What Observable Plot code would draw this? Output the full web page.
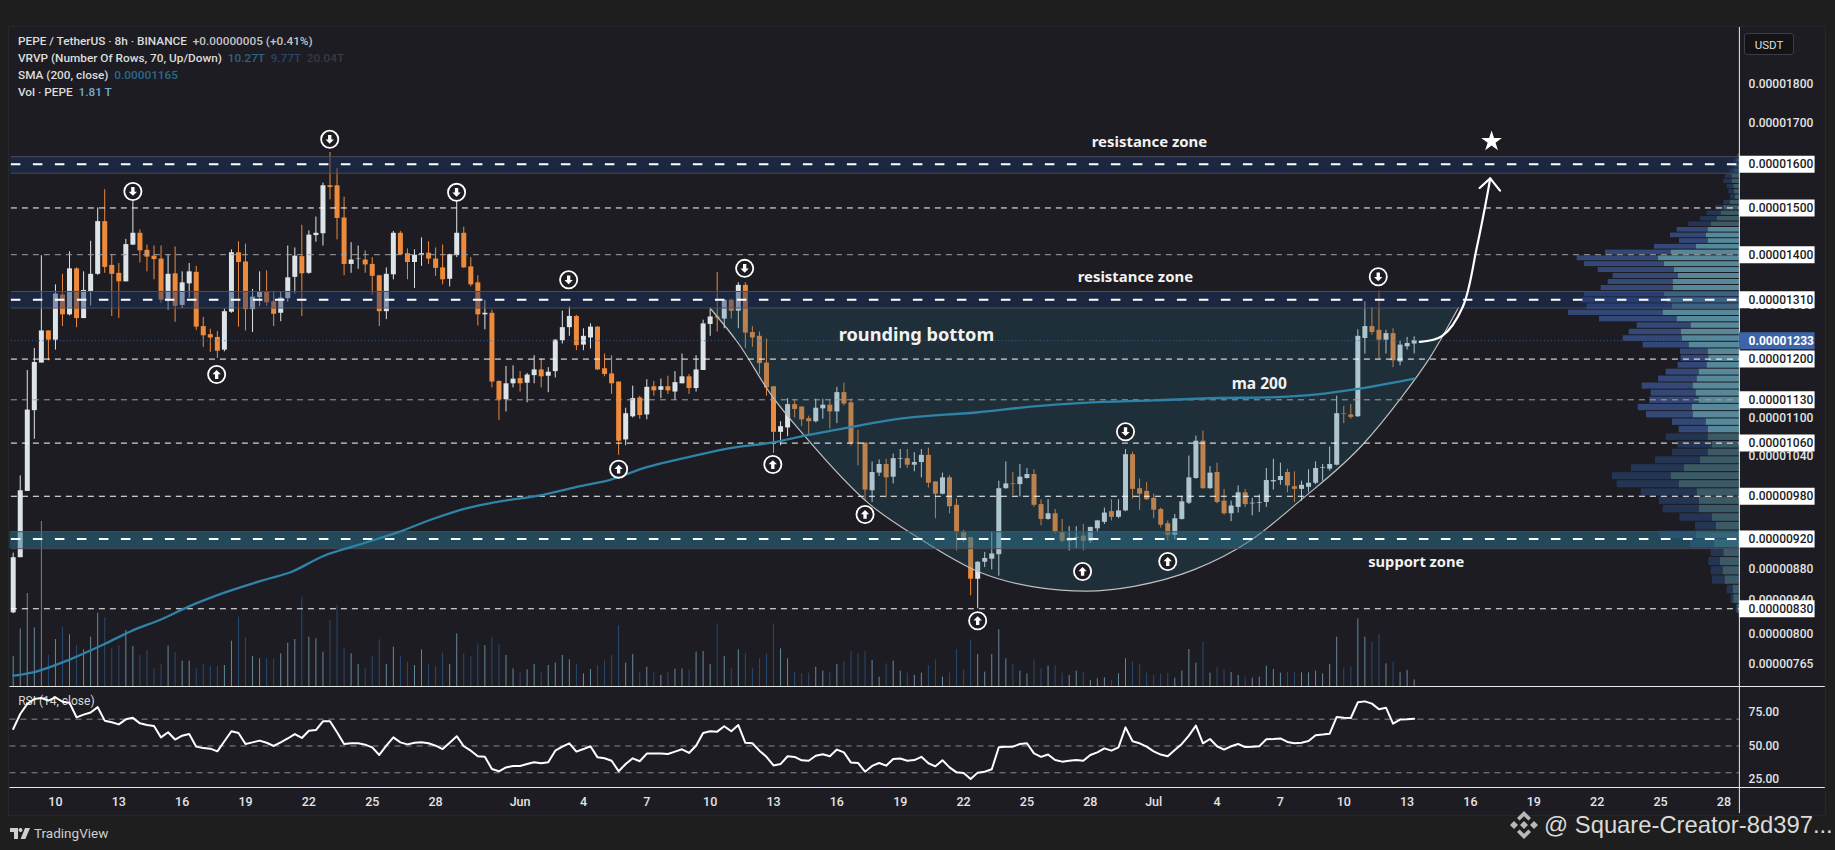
<!DOCTYPE html>
<html>
<head>
<meta charset="utf-8">
<title>PEPE / TetherUS 8h</title>
<script src="https://cdn.jsdelivr.net/npm/d3@7"></script>
<script src="https://cdn.jsdelivr.net/npm/@observablehq/plot@0.6"></script>
<style>
  html,body{margin:0;padding:0;background:#1e1e1e;width:1835px;height:850px;overflow:hidden;font-family:Roboto,sans-serif;}
  #stage{position:relative;width:1835px;height:850px;}
  #pane{position:absolute;left:9px;top:27px;width:1816px;height:788px;background:#1c1c22;box-shadow:0 0 0 1px #27272b;}
  .layer{position:absolute;left:0;}
  .layer svg{display:block;}
  #legend{position:absolute;left:18px;top:33px;font-size:11.8px;line-height:17px;color:#dcdcdc;white-space:pre;font-weight:500;}
  #usdt{position:absolute;left:1744px;top:33px;width:50px;height:22px;line-height:22px;text-align:center;font-size:11.5px;color:#dcdcdc;background:#131316;border:1px solid #3c3c42;border-radius:3px;box-sizing:border-box;}
  #tv{position:absolute;left:10px;top:825px;color:#cfcfcf;font-size:13.5px;line-height:16px;display:flex;align-items:center;gap:4px;}
  #mark{position:absolute;left:1510px;top:808px;color:#dadada;font-family:"Liberation Sans",Arial,sans-serif;font-size:23.8px;line-height:34px;display:flex;align-items:center;gap:6px;white-space:pre;}
</style>
</head>
<body>
<div id="stage">
  <div id="pane"></div>
  <div id="layers"></div>
  <div id="legend"><div>PEPE / TetherUS · 8h · BINANCE  <span style="color:#c4c4c4">+0.00000005 (+0.41%)</span></div><div>VRVP (Number Of Rows, 70, Up/Down)  <span style="color:#2f6583">10.27T</span>  <span style="color:#2a4568">9.77T</span>  <span style="color:#3a3a42">20.04T</span></div><div>SMA (200, close)  <span style="color:#2b6a8c">0.00001165</span></div><div>Vol · PEPE  <span style="color:#76aecb">1.81 T</span></div></div>
  <div id="usdt">USDT</div>
  <div id="tv"><svg width="20" height="11" viewBox="0 0 20 11"><path fill="#cfcfcf" d="M0 0h8v11H4V4H0z"/><circle fill="#cfcfcf" cx="10.5" cy="2" r="2"/><path fill="#cfcfcf" d="M15 0h5l-4.6 11H10.6z"/></svg><span>TradingView</span></div>
  <div id="mark"><svg width="28" height="30" viewBox="0 0 28 30"><g fill="#b9b9b9"><path d="M14 11l4 4-4 4-4-4z"/><path d="M14 1l7 7-2.6 2.6L14 6.200l-4.400 4.400L7 8z"/><path d="M14 29l-7-7 2.600-2.600 4.400 4.400 4.400-4.400L21 22z"/><path d="M4 11l4 4-4 4-4-4z"/><path d="M24 11l4 4-4 4-4-4z"/></g></svg><span>@ Square-Creator-8d397...</span></div>
</div>
<script>
// Prices are in units of 0.00000001 USDT. One candle every 8 hours from 8 May 2024.
const opens=[825,895,987,1112,1193,1251,1234,1319,1281,1371,1274,1326,1360,1470,1378,1362,1345,1420,1445,1409,1397,1391,1307,1361,1299,1341,1364,1259,1244,1239,1216,1286,1404,1385,1291,1314,1326,1306,1284,1312,1354,1396,1362,1440,1444,1550,1550,1478,1380,1390,1389,1380,1357,1287,1359,1445,1402,1384,1399,1403,1391,1373,1350,1398,1445,1375,1343,1281,1284,1161,1130,1157,1166,1158,1171,1181,1170,1178,1233,1257,1278,1225,1238,1258,1183,1174,1160,1065,1102,1133,1105,1152,1146,1152,1143,1157,1169,1149,1180,1263,1277,1273,1309,1288,1338,1248,1241,1193,1152,1077,1084,1122,1118,1099,1094,1115,1121,1110,1142,1125,1060,1060,988,1014,1027,1008,1035,1036,1026,1030,1041,1001,983,1007,967,930,922,867,889,893,899,991,998,997,1006,1012,968,947,955,929,917,921,924,917,934,943,958,950,959,1042,991,987,977,961,941,925,947,970,1006,1063,991,1015,973,955,964,985,969,970,971,1001,1003,1015,994,990,993,999,1021,1020,1026,1107,1105,1102,1237,1259,1252,1234,1246,1195,1222,1227];
const highs=[901,1010,1180,1219,1398,1251,1339,1360,1406,1373,1365,1428,1500,1541,1400,1382,1432,1514,1452,1420,1418,1418,1400,1416,1365,1382,1376,1276,1254,1250,1292,1410,1427,1422,1330,1365,1367,1326,1325,1418,1414,1462,1450,1480,1556,1628,1590,1524,1425,1418,1408,1394,1358,1373,1449,1449,1412,1410,1435,1427,1414,1420,1401,1514,1458,1394,1357,1309,1290,1162,1187,1188,1178,1175,1206,1200,1185,1235,1288,1296,1280,1255,1264,1259,1209,1206,1160,1116,1153,1136,1164,1161,1165,1170,1178,1209,1173,1206,1271,1291,1364,1309,1311,1343,1343,1259,1249,1236,1152,1094,1132,1130,1118,1103,1131,1131,1129,1151,1158,1131,1080,1060,1031,1034,1035,1043,1050,1050,1045,1050,1052,1001,1014,1010,976,932,922,890,902,930,1002,1031,1015,1027,1021,1019,975,975,961,947,937,937,940,936,945,963,975,975,1050,1046,1005,1000,983,963,945,954,980,1040,1071,1079,1024,1029,990,973,995,990,977,982,1021,1035,1029,1020,1016,1002,1019,1031,1027,1054,1136,1119,1122,1253,1306,1295,1327,1252,1255,1232,1239,1240];
const lows=[824,895,987,1066,1193,1197,1216,1259,1279,1257,1274,1298,1358,1362,1278,1274,1345,1419,1383,1365,1349,1303,1290,1267,1293,1313,1252,1221,1212,1201,1213,1284,1258,1251,1248,1297,1297,1259,1268,1305,1321,1278,1360,1426,1418,1518,1431,1357,1362,1370,1362,1319,1259,1272,1349,1399,1349,1332,1376,1380,1356,1339,1335,1394,1372,1335,1260,1253,1150,1096,1110,1150,1143,1125,1157,1150,1142,1167,1227,1241,1215,1215,1218,1180,1169,1139,1041,1056,1100,1098,1097,1136,1132,1139,1129,1157,1139,1143,1180,1241,1249,1255,1273,1255,1219,1221,1173,1136,1044,1056,1070,1100,1086,1073,1092,1098,1082,1091,1120,1055,1025,973,971,1009,978,998,1021,1021,1016,1007,992,948,982,955,904,915,846,830,882,879,871,990,981,979,1005,964,938,946,927,915,904,907,904,914,929,940,945,948,958,976,960,974,948,935,917,919,946,968,1005,990,990,969,953,944,956,964,952,957,964,989,996,985,971,973,985,997,1002,1017,1025,1091,1098,1101,1209,1243,1200,1209,1185,1188,1216,1209];
const closes=[895,988,1113,1194,1251,1234,1321,1281,1371,1274,1328,1360,1470,1374,1360,1345,1421,1445,1408,1395,1390,1309,1360,1297,1343,1365,1258,1242,1238,1214,1287,1404,1384,1291,1315,1324,1304,1282,1313,1353,1397,1361,1441,1445,1550,1546,1477,1380,1389,1391,1379,1356,1287,1360,1445,1400,1384,1399,1402,1391,1372,1349,1400,1445,1373,1339,1281,1284,1160,1130,1157,1165,1157,1172,1181,1169,1177,1234,1257,1278,1224,1241,1258,1181,1173,1157,1063,1107,1132,1104,1151,1145,1152,1145,1159,1169,1149,1181,1264,1277,1275,1309,1288,1338,1247,1238,1192,1150,1077,1086,1122,1114,1097,1094,1116,1121,1110,1142,1123,1059,1059,989,1015,1027,1007,1036,1036,1026,1030,1041,999,983,1007,965,929,921,867,889,894,900,991,998,997,1008,1012,967,947,955,929,917,921,922,917,936,945,956,950,959,1042,990,983,975,960,939,925,948,972,1007,1063,991,1014,971,955,966,985,968,970,971,1003,1003,1009,995,990,996,999,1021,1022,1027,1107,1106,1101,1241,1259,1248,1234,1246,1197,1225,1228,1233];
// Volume: one unit is about 0.09T
const volumes=[90,173,279,176,495,93,141,178,155,123,110,148,220,206,113,123,168,120,93,108,53,66,121,101,76,76,53,66,60,60,63,136,208,146,90,83,83,83,98,130,141,268,148,143,103,198,243,113,98,66,53,90,140,66,118,90,73,63,110,66,60,100,66,158,98,90,128,123,148,126,93,53,40,50,66,41,63,70,93,80,66,38,51,63,76,93,183,70,96,43,58,41,33,43,52,53,50,103,105,66,188,90,53,110,100,53,83,96,188,113,83,43,38,40,58,46,43,66,75,105,98,105,78,28,68,76,46,40,33,40,63,80,28,40,110,50,140,96,43,96,170,83,66,46,38,80,53,61,61,40,33,46,43,18,23,26,18,38,83,73,66,40,33,38,40,25,46,111,70,133,40,56,50,42,33,28,25,28,61,51,40,43,41,41,41,46,38,66,148,55,58,203,148,133,156,68,73,41,48,20];
const rsiValues=[62.7,73.9,81.4,85.1,85.8,83.9,86.3,83,82.2,71.4,73.4,75,79,68.9,67.7,66.1,69.9,71,66.9,65.7,64.9,56.4,60.2,54.8,57.7,58.9,49.5,48.4,48,46,53.5,61,59.7,51.5,52.7,54,52.4,50,52.7,55.6,58.9,56,61.4,61.9,68.4,68.4,60.2,51.5,52,52,51,49,43.3,50.2,56.4,52.7,51.2,52.4,52.7,52,50.2,47.7,52.4,57.3,49.8,46.5,42.3,41.9,32.8,31.1,34,35.1,35.1,36.5,37.8,37.1,37.8,46.5,49.5,52,45.8,47.7,49.8,41.5,40.8,39,31.1,36.5,40.8,38.6,44.3,44.3,44.3,44,45.8,47.5,44.8,50.2,59.7,61,60.7,64.7,61,65.6,52.4,52,46.5,41.9,35.5,36.5,42.3,41.8,39.3,39,42.7,43.8,42.3,47.3,45.2,37.6,37.3,30.8,35.1,37.3,35.3,40.3,40.6,39,39.5,41.9,37.1,34.8,39.3,34,30.3,29.9,25.3,30.1,30.8,32.6,49,49.5,49.5,51.5,52,44.5,41.9,43.6,39.5,38.3,39,39.5,39,43.3,45.2,48.2,46.5,49,63.9,53.5,52,49.5,46,43.6,42.3,47,51.5,57.7,65.2,52,55.2,49.8,47.3,49.8,51.5,49.2,49.5,49.8,55,55.2,55.6,53,52,52.4,53.7,58,58.5,59.2,71.7,71.1,70.9,82.6,83.3,81.6,77.4,78.6,66.7,69.7,69.9,70.4];
// SMA 200, read at selected candle positions
const smaBars=[0,3,8,13,17,21,25,30,36,39.4,44,49,54.6,59.7,64.5,68.8,75.3,80.2,84.8,90,95.8,102.3,107.9,112.6,118.8,126,136.8,145,152,162,171.5,178,185.2,190.3,199];
const smaValues=[752,756,770,788,804,817,833,850,867,876,897,912,929,948,963,972,982,994,1004,1023,1038,1053,1061,1072,1085,1099,1109,1119,1125,1129,1133,1134,1139,1147,1166];
// Rounding-bottom drawing
const bowlBars=[98.97,103.07,107.57,112.6,121.6,128.87,137.3,145.2,152.46,159.2,167.66,175.75,182.85,191.8,197.06,201.3,205.3];
const bowlPrices=[1294,1227,1140,1069,969,920,876,857,852,858,879,918,974,1059,1132,1204,1295];
const bowlTop=1295;
// Projection arrow
const arrowBars=[199.8,203,205.9,207.9,209.5,209.8];
const arrowPrices=[1231,1242,1296,1415,1539,1567];
const headBars=[208.3,209.8,211.2];
const headPrices=[1545,1567,1539];
// Circled markers
const downMarkBars=[44.96,17,62.98,78.9,103.9,158,193.9];
const downMarkPrices=[1660,1537,1535,1349,1372,1078,1355];
const upMarkBars=[28.9,86,107.9,121,137,151.9,164];
const upMarkPrices=[1173,1020,1027,954,815.5,877,890];
// Zones and levels
const zoneHigh=[1618,1326,930];
const zoneLow=[1579,1294,907];
const zoneColor=["#1a3468","#1a3468","#2a7390"];
const zoneOpacity=[0.45,0.45,0.5];
const zoneLevels=[1600,1310,920];
const whiteLevels=[1500,1200,1060,980,830];
const greyLevels=[1400,1130];
const lastPrice=1233;
const boxedLabels=[1600,1500,1400,1310,1200,1130,1060,980,920,830];
const plainLabels=[1800,1700,1300,1100,1040,880,840,800,765];
// Annotations
const noteTexts=["resistance zone","resistance zone","support zone","rounding bottom","ma 200"];
const noteBars=[161.4,159.4,199.3,128.3,177];
const notePrices=[1653,1355,889,1243,1156];
const noteSizes=[14.9,14.9,14.7,18.2,15.5];
// Volume profile rows, bottom to top; lengths in relative units
const profileBottom=824;
const profileStep=11.97;
const profileUp=[7,17,19,43,49,57,47,75,129,70,81,121,120,127,180,205,165,117,94,82,94,94,100,139,142,121,130,139,127,121,97,92,94,151,172,175,145,187,229,201,217,225,199,199,184,195,225,243,205,129,94,99,94,85,67,55,47,27,12,15,17,22,22,17,12,9,3];
const profileDown=[3,8,18,38,36,35,38,72,110,62,98,108,121,168,187,176,159,135,107,103,126,87,101,140,162,148,135,153,116,99,87,83,83,138,177,156,162,233,284,256,255,240,216,195,195,229,240,244,197,126,86,108,93,67,50,42,25,20,15,17,20,25,20,12,10,8,4];
const valueAreaLow=1075, valueAreaHigh=1458;
// Time axis
const tickDays=["2024-05-10","2024-05-13","2024-05-16","2024-05-19","2024-05-22","2024-05-25","2024-05-28","2024-06-01","2024-06-04","2024-06-07","2024-06-10","2024-06-13","2024-06-16","2024-06-19","2024-06-22","2024-06-25","2024-06-28","2024-07-01","2024-07-04","2024-07-07","2024-07-10","2024-07-13","2024-07-16","2024-07-19","2024-07-22","2024-07-25","2024-07-28"];
const tickLabels=["10","13","16","19","22","25","28","Jun","4","7","10","13","16","19","22","25","28","Jul","4","7","10","13","16","19","22","25","28"];
const rsiBands=[70,50,30];
const rsiLabels=[75,50,25];

const barTime=i=>new Date(Date.UTC(2024,4,8)+i*8*3600e3);
const FONT="Roboto, sans-serif";
const xOpt={type:"utc",domain:[barTime(-1.804),barTime(258.85)],range:[0,1835],axis:null};
const UP="#dde4e8",DOWN="#ee8a3c",GRID="#a0a0a0",WHITE="#ffffff";
const axisBar=245.2, paneLeftBar=-0.455, paneRightBar=257.4, boxEndBar=255.95, labelBar=246.5;
const zip=(xs,ys)=>xs.map((b,i)=>({t:barTime(b),p:ys[i]}));

const candles=opens.map((o,i)=>({t:barTime(i),open:o,high:highs[i],low:lows[i],close:closes[i],up:closes[i]>=o,vol:volumes[i],rsi:rsiValues[i]}));
const bowl=zip(bowlBars,bowlPrices);
const zones=zoneHigh.map((h,i)=>({hi:h,lo:zoneLow[i],fill:zoneColor[i],op:zoneOpacity[i]}));
const notes=noteTexts.map((s,i)=>({s,t:barTime(noteBars[i]),p:notePrices[i],size:noteSizes[i]}));
const priceText=p=>(p/1e8).toFixed(8);

function arrowSymbol(dir){return {draw(ctx,size){
  const r=Math.sqrt(size/Math.PI), s=dir;
  ctx.moveTo(0,-s*r); ctx.lineTo(r*0.95,-s*r*0.05); ctx.lineTo(r*0.38,-s*r*0.05);
  ctx.lineTo(r*0.38,s*r); ctx.lineTo(-r*0.38,s*r); ctx.lineTo(-r*0.38,-s*r*0.05);
  ctx.lineTo(-r*0.95,-s*r*0.05); ctx.closePath();
}};}

function hline(levels,stroke,width,dash){
  return Plot.ruleY(levels,{y:d=>d,x1:()=>barTime(paneLeftBar+0.2),x2:()=>barTime(axisBar),stroke,strokeWidth:width,strokeDasharray:dash});
}
function addLayer(top,node){const d=document.createElement("div");d.className="layer";d.style.top=top+"px";d.appendChild(node);document.getElementById("layers").appendChild(d);}

// Volume layer
addLayer(500,Plot.plot({width:1835,height:186,margin:0,style:{background:"transparent"},
  x:xOpt,y:{domain:[0,558],range:[186,0],axis:null},
  marks:[Plot.ruleX(candles,{x:"t",y1:()=>0,y2:"vol",stroke:d=>d.up?"#6d96ad":"#2a5078",strokeWidth:0.9})]}));

// Volume profile layer
const rows=profileUp.map((u,k)=>{const c=profileBottom+(k+0.5)*profileStep;const va=c>=valueAreaLow&&c<=valueAreaHigh;
  return {y1:profileBottom+k*profileStep,y2:profileBottom+(k+1)*profileStep,up:u,down:profileDown[k],va};});
addLayer(0,Plot.plot({width:1835,height:850,margin:0,style:{background:"transparent"},
  x:{domain:[0,537],range:[1739,1560],axis:null},
  y:{type:"log",domain:[1958,740],range:[27,686],axis:null},
  marks:[
    Plot.rect(rows,{x1:d=>d.up,x2:d=>d.up+d.down,y1:"y1",y2:"y2",fill:d=>d.va?"#344878":"#233552",insetTop:0.5,insetBottom:0.5}),
    Plot.rect(rows,{x1:()=>0,x2:"up",y1:"y1",y2:"y2",fill:d=>d.va?"#568899":"#3b5a66",insetTop:0.5,insetBottom:0.5})
  ]}));

// Price layer
addLayer(0,Plot.plot({width:1835,height:850,margin:0,style:{background:"transparent",fontFamily:FONT},
  x:xOpt,y:{type:"log",domain:[1958,740],range:[27,686],axis:null},
  marks:[
    Plot.ruleX(candles,{x:"t",y1:"low",y2:"high",stroke:d=>d.up?UP:DOWN,strokeWidth:1}),
    Plot.ruleX(candles,{x:"t",y1:"open",y2:"close",stroke:d=>d.up?UP:DOWN,strokeWidth:5}),
    Plot.areaY(bowl,{x:"t",y1:"p",y2:()=>bowlTop,curve:"monotone-x",fill:"#28687e",fillOpacity:0.25}),
    Plot.line(bowl,{x:"t",y:"p",curve:"monotone-x",stroke:"#c0c0c0",strokeWidth:1.2}),
    Plot.rect(zones,{x1:()=>barTime(paneLeftBar),x2:()=>barTime(axisBar),y1:"lo",y2:"hi",fill:"fill",fillOpacity:"op"}),
    hline(zoneHigh,"#4c4c56",1),hline(zoneLow,"#4c4c56",1),
    hline(zoneLevels,WHITE,2,"9.5,12.5"),
    hline(whiteLevels,WHITE,1,"6,5"),
    hline(greyLevels,GRID,1,"6,5"),
    hline([lastPrice],"#35639c",1,"1,2.5"),
    Plot.line(zip(smaBars,smaValues),{x:"t",y:"p",curve:"monotone-x",stroke:"#2f83a8",strokeWidth:2.3}),
    Plot.line(zip(arrowBars,arrowPrices),{x:"t",y:"p",curve:"catmull-rom",stroke:WHITE,strokeWidth:2.2}),
    Plot.line(zip(headBars,headPrices),{x:"t",y:"p",stroke:WHITE,strokeWidth:2.2,strokeLinejoin:"miter"}),
    Plot.dot(zip(downMarkBars.concat(upMarkBars),downMarkPrices.concat(upMarkPrices)),{x:"t",y:"p",r:8.6,stroke:WHITE,strokeWidth:1.8,fill:"#1c1c22"}),
    Plot.dot(zip(downMarkBars,downMarkPrices),{x:"t",y:"p",r:4.4,symbol:arrowSymbol(-1),fill:WHITE}),
    Plot.dot(zip(upMarkBars,upMarkPrices),{x:"t",y:"p",r:4.4,symbol:arrowSymbol(1),fill:WHITE}),
    Plot.dot([{t:barTime(210),p:1655}],{x:"t",y:"p",r:6.5,symbol:"star",fill:WHITE}),
    Plot.text(notes,{x:"t",y:"p",text:"s",fontSize:"size",fontWeight:700,fill:"#f2f2f2",fontFamily:"'Noto Sans',sans-serif"}),
    Plot.ruleX([axisBar],{x:d=>barTime(d),y1:()=>1958,y2:()=>740,stroke:"#e8e8e8",strokeWidth:1}),
    Plot.text(plainLabels,{x:()=>barTime(labelBar),y:d=>d,text:priceText,textAnchor:"start",fill:"#e4e4e4",fontSize:12,fontWeight:500}),
    Plot.ruleY(boxedLabels,{y:d=>d,x1:()=>barTime(axisBar),x2:()=>barTime(boxEndBar),stroke:WHITE,strokeWidth:17}),
    Plot.ruleY([lastPrice],{y:d=>d,x1:()=>barTime(axisBar),x2:()=>barTime(boxEndBar),stroke:"#3d64a8",strokeWidth:17}),
    Plot.text(boxedLabels,{x:()=>barTime(labelBar),y:d=>d,text:priceText,textAnchor:"start",fill:"#1b1b1f",fontSize:12,fontWeight:500}),
    Plot.text([lastPrice],{x:()=>barTime(labelBar),y:d=>d,text:priceText,textAnchor:"start",fill:WHITE,fontSize:12,fontWeight:700})
  ]}));

// RSI and time axis layer
addLayer(676,Plot.plot({width:1835,height:139,marginLeft:0,marginRight:0,marginTop:0,marginBottom:28,style:{background:"transparent",fontFamily:FONT},
  x:xOpt,y:{domain:[94.4,-1.9],range:[10,139],axis:null},
  marks:[
    Plot.text(["RSI (14, close)"],{x:()=>barTime(0.7),y:()=>83.2,text:d=>d,textAnchor:"start",fill:"#d8d8d8",fontSize:12}),
    Plot.ruleY(rsiBands,{y:d=>d,x1:()=>barTime(paneLeftBar),x2:()=>barTime(axisBar),stroke:"#8a8a8a",strokeWidth:1,strokeDasharray:"6,5"}),
    Plot.line(candles,{x:"t",y:"rsi",stroke:WHITE,strokeWidth:2}),
    Plot.ruleY([94.4,19],{y:d=>d,x1:()=>barTime(paneLeftBar),x2:()=>barTime(paneRightBar),stroke:"#e8e8e8",strokeWidth:1}),
    Plot.ruleX([axisBar],{x:d=>barTime(d),y1:()=>94.4,y2:()=>-0.5,stroke:"#e8e8e8",strokeWidth:1}),
    Plot.text(rsiLabels,{x:()=>barTime(labelBar),y:d=>d,text:d=>d.toFixed(2),textAnchor:"start",fill:"#e4e4e4",fontSize:12,fontWeight:500}),
    Plot.axisX({ticks:tickDays.map(d=>new Date(d+"T00:00:00Z")),tickFormat:d=>tickLabels[tickDays.indexOf(d.toISOString().slice(0,10))],tickSize:0,tickPadding:10,fontSize:12.5,fontWeight:500,fill:"#e4e4e4",label:null})
  ]}));
</script>
</body>
</html>
